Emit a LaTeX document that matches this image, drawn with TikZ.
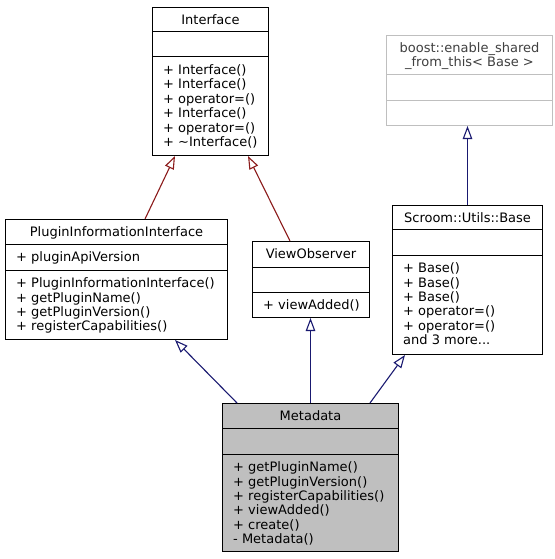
\documentclass[tikz,border=0pt]{standalone}
\usepackage{fontspec}
\setmainfont{DejaVu Sans}
\usetikzlibrary{arrows.meta}
\definecolor{edgered}{HTML}{8B1A1A}
\definecolor{edgeblue}{HTML}{191970}
\definecolor{boxgray}{HTML}{BFBFBF}
\definecolor{textgray}{HTML}{404040}
\begin{document}
\begin{tikzpicture}[x=1pt,y=-1pt,
  classbox/.style={draw=black, line width=1pt, fill=white, inner sep=0pt, rectangle},
  extbox/.style={classbox, draw=boxgray},
  curbox/.style={classbox, fill=boxgray},
  divline/.style={draw=black, line width=1pt},
  extdiv/.style={draw=boxgray, line width=1pt},
  titletext/.style={inner sep=0pt, anchor=base, font=\fontsize{13}{14.4}\selectfont},
  membertext/.style={inner sep=0pt, anchor=north west, align=left, font=\fontsize{13}{14.4}\selectfont},
  inhred/.style={draw=edgered, line width=1.1pt, -{Triangle[open, length=13pt, width=9.5pt, line width=1.1pt]}},
  inhblue/.style={draw=edgeblue, line width=1.1pt, -{Triangle[open, length=13pt, width=9.5pt, line width=1.1pt]}}
]
\useasboundingbox (0,0) rectangle (554,559);
\newcommand{\firstline}{\rule{0pt}{11pt}}

% ---------- Interface ----------
\node[classbox, minimum width=116pt, minimum height=148pt] (iface) at (210.5,81.5) {};
\draw[divline] ([yshift=-25pt]iface.north west) -- ([yshift=-25pt]iface.north east);
\draw[divline] ([yshift=-50pt]iface.north west) -- ([yshift=-50pt]iface.north east);
\node[titletext] (ifaceT) at ([yshift=-17.4pt]iface.north) {Interface};
\node[membertext] (ifaceM) at ([xshift=11pt,yshift=-56.4pt]iface.north west)
  {\firstline+ Interface()\\+ Interface()\\+ operator=()\\+ Interface()\\+ operator=()\\+ \textasciitilde Interface()};

% ---------- boost::enable_shared_from_this ----------
\node[extbox, minimum width=166pt, minimum height=90pt] (boost) at (469.5,80.5) {};
\draw[extdiv] ([yshift=-40pt]boost.north west) -- ([yshift=-40pt]boost.north east);
\draw[extdiv] ([yshift=-66pt]boost.north west) -- ([yshift=-66pt]boost.north east);
\node[membertext, anchor=north, align=center, text=textgray] (boostT) at ([yshift=-6.4pt]boost.north)
  {\firstline boost::enable\_shared\\\_from\_this< Base >};

% ---------- PluginInformationInterface ----------
\node[classbox, minimum width=222pt, minimum height=120pt] (pii) at (116.5,279.5) {};
\draw[divline] ([yshift=-25pt]pii.north west) -- ([yshift=-25pt]pii.north east);
\draw[divline] ([yshift=-51pt]pii.north west) -- ([yshift=-51pt]pii.north east);
\node[titletext] (piiT) at ([yshift=-17.4pt]pii.north) {PluginInformationInterface};
\node[membertext] (piiA) at ([xshift=11pt,yshift=-31.4pt]pii.north west)
  {\firstline+ pluginApiVersion};
\node[membertext] (piiM) at ([xshift=11pt,yshift=-57.4pt]pii.north west)
  {\firstline+ PluginInformationInterface()\\+ getPluginName()\\+ getPluginVersion()\\+ registerCapabilities()};

% ---------- ViewObserver ----------
\node[classbox, minimum width=117pt, minimum height=76pt] (vo) at (311,279.5) {};
\draw[divline] ([yshift=-26pt]vo.north west) -- ([yshift=-26pt]vo.north east);
\draw[divline] ([yshift=-51pt]vo.north west) -- ([yshift=-51pt]vo.north east);
\node[titletext] (voT) at ([yshift=-17.4pt]vo.north) {ViewObserver};
\node[membertext] (voM) at ([xshift=11pt,yshift=-57.4pt]vo.north west)
  {\firstline+ viewAdded()};

% ---------- Scroom::Utils::Base ----------
\node[classbox, minimum width=150pt, minimum height=149pt] (base) at (467.5,280) {};
\draw[divline] ([yshift=-24pt]base.north west) -- ([yshift=-24pt]base.north east);
\draw[divline] ([yshift=-50pt]base.north west) -- ([yshift=-50pt]base.north east);
\node[titletext] (baseT) at ([yshift=-17.4pt]base.north) {Scroom::Utils::Base};
\node[membertext] (baseM) at ([xshift=11pt,yshift=-56.4pt]base.north west)
  {\firstline+ Base()\\+ Base()\\+ Base()\\+ operator=()\\+ operator=()\\and 3 more...};

% ---------- Metadata ----------
\node[curbox, minimum width=176pt, minimum height=148pt] (meta) at (310.5,477.5) {};
\draw[divline] ([yshift=-25pt]meta.north west) -- ([yshift=-25pt]meta.north east);
\draw[divline] ([yshift=-51pt]meta.north west) -- ([yshift=-51pt]meta.north east);
\node[titletext] (metaT) at ([yshift=-17.4pt]meta.north) {Metadata};
\node[membertext] (metaM) at ([xshift=11pt,yshift=-57.4pt]meta.north west)
  {\firstline+ getPluginName()\\+ getPluginVersion()\\+ registerCapabilities()\\+ viewAdded()\\+ create()\\- Metadata()};

% ---------- Inheritance connectors ----------
\draw[inhred] ([xshift=28.5pt]pii.north) -- ([xshift=-35.5pt]iface.south);
\draw[inhred] ([xshift=-21pt]vo.north) -- ([xshift=37.5pt]iface.south);
\draw[inhblue] (base.north) -- (base.north |- boost.south);
\draw[inhblue] ([xshift=-73.5pt]meta.north) -- ([xshift=58.5pt]pii.south);
\draw[inhblue] (meta.north) -- (meta.north |- vo.south);
\draw[inhblue] ([xshift=59.5pt]meta.north) -- ([xshift=-62.5pt]base.south);
\end{tikzpicture}
\end{document}
